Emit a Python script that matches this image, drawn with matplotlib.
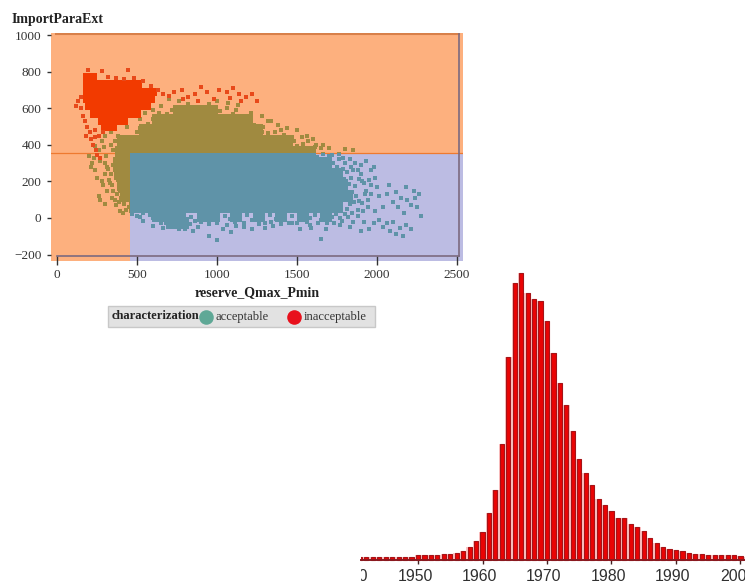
import numpy as np
import matplotlib
matplotlib.use("Agg")
import matplotlib.pyplot as plt
from matplotlib.patches import Rectangle
from matplotlib.lines import Line2D
from matplotlib.transforms import Bbox, IdentityTransform, TransformedBbox, Affine2D

W, H = 745, 581
SERIF = "Liberation Serif"

# ---- scatter data: reserve_Qmax_Pmin (x) against ImportParaExt (y)
x_limit = 456
y_limit = 355
xticks = [0, 500, 1000, 1500, 2000, 2500]
yticks = [-200, 0, 200, 400, 600, 800, 1000]
legend_title = "characterization"
legend_labels = ["acceptable", "inacceptable"]

core_y = [585, 535, 480, 420, 360, 300, 240, 180, 120, 60, 10, -30]
core_x585 = [760, 830, 900, 970]
core_x535 = [630, 700, 770, 840, 910, 980, 1050, 1120, 1190]
core_x480 = [550, 620, 690, 760, 830, 900, 970, 1040, 1110, 1180, 1250]
core_x420 = [410, 480, 550, 620, 690, 760, 830, 900, 970, 1040, 1110, 1180, 1250, 1320, 1390, 1440]
core_x360 = [400, 470, 540, 610, 680, 750, 820, 890, 960, 1030, 1100, 1170, 1240, 1310, 1380, 1450, 1520, 1580]
core_x300 = [385, 420, 490, 560, 630, 700, 770, 840, 910, 980, 1050, 1120, 1190, 1260, 1330, 1400, 1470, 1540, 1610, 1680]
core_x240 = [395, 430, 500, 570, 640, 710, 780, 850, 920, 990, 1060, 1130, 1200, 1270, 1340, 1410, 1480, 1550, 1620, 1690, 1750]
core_x180 = [410, 460, 530, 600, 670, 740, 810, 880, 950, 1020, 1090, 1160, 1230, 1300, 1370, 1440, 1510, 1580, 1650, 1720, 1780]
core_x120 = [430, 490, 560, 630, 700, 770, 840, 910, 980, 1050, 1120, 1190, 1260, 1330, 1400, 1470, 1540, 1610, 1680, 1750, 1810]
core_x60 = [490, 560, 630, 700, 770, 840, 910, 980, 1050, 1120, 1190, 1260, 1330, 1400, 1470, 1540, 1610, 1680, 1750]
core_x10 = [630, 700, 770, 910, 980, 1120, 1260, 1400, 1540, 1680]
core_x_30 = [720, 790]
core_rows = [core_x585, core_x535, core_x480, core_x420, core_x360, core_x300,
             core_x240, core_x180, core_x120, core_x60, core_x10, core_x_30]

accept_sparse = [
    (2010, 120), (2040, 60), (2060, 130), (2075, 180), (2100, 90), (2120, 140), (2130, 60), (2150, 110),
    (2170, 30), (2180, 170), (2190, 100), (2210, 70), (2230, 150), (2240, 110), (2250, 60), (2265, 130),
    (2275, 10), (2215, -60), (2180, -40), (2040, -50), (2060, -30), (2080, -70), (2100, -20), (2120, -90),
    (2145, -55), (2160, -100), (2010, -10), (1980, -30), (1990, 40), (1950, -60), (1920, -20), (1900, -70),
    (1700, 340), (1760, 350), (1790, 330), (1830, 320), (1860, 300), (1900, 290), (1930, 310), (1960, 260),
    (1980, 280), (1900, 240), (1850, 265), (1950, 210), (1990, 220), (2000, 170), (1960, 180), (1920, 190),
    (1960, 130), (1945, 100), (1945, 60), (1915, 40), (1880, 10), (1850, -20), (1930, 150), (1890, 215),
    (1700, 380), (1800, 375), (1850, 370), (1660, 400), (1600, 430), (1560, 450), (1500, 480), (1440, 490),
    (1380, 510), (1320, 530), (1280, 555), (1210, 575), (1120, 590), (1130, 620), (1070, 630), (1000, 640),
    (950, 625), (880, 640), (820, 625), (760, 640), (700, 650), (650, 610), (600, 590), (550, 575), (520, 540),
    (540, -15), (600, -45), (650, -30), (660, -55), (760, -60), (800, -60), (850, -70), (880, -50),
    (950, -100), (1000, -120), (1040, -60), (1090, -75), (1120, -45), (1170, -50), (1220, -60), (1300, -55),
    (1350, -45), (1450, -30), (1520, -60), (1580, -40), (1650, -115), (1680, -60), (1730, -30), (1770, -40),
    (1830, -50), (200, 340), (220, 300), (240, 260), (210, 280), (250, 220), (280, 200), (300, 240),
    (270, 310), (310, 150), (330, 190), (290, 180), (260, 120), (270, 98), (300, 75), (345, 110),
    (370, 70), (415, 27), (395, 40), (350, 150), (375, 130), (230, 330), (260, 370), (235, 395),
    (300, 300), (320, 270), (340, 240), (280, 420), (300, 450), (340, 470), (400, 520), (440, 500),
    (305, 340), (295, 390), (310, 280), (325, 210), (345, 180), (360, 100), (385, 85), (430, 45),
    (470, 20), (500, 10), (520, 5), (1335, 530), (1400, 480), (1530, 440), (1570, 420), (1650, 380),
    (1760, 320), (1800, 300), (1840, 280), (1880, 260), (1905, 200), (1925, 130), (1905, 80), (1880, 45),
    (1060, 600), (640, 575), (1180, 545), (1290, 500), (1360, 470), (1470, 445), (1540, 405), (1610, 390),
    (950, -35), (1000, -30), (1060, -40), (1110, -20), (1170, -30), (1300, -25), (1340, -20), (1470, -25),
    (1500, -30), (1630, -30), (1690, -25), (1780, -15),
    # fringe of the dense cloud
    (1815, 250), (1795, 215), (1840, 220), (1825, 185), (1860, 175), (1845, 140), (1870, 120), (1855, 85),
    (1890, 95), (1830, 75), (1810, 50), (1845, 30), (1800, 20), (1770, 0), (1820, 5), (1745, 20),
    (1725, 300), (1750, 280), (1790, 270), (1720, 345), (1660, 350), (1625, 335), (1600, 370), (1620, 400),
    (1530, 375), (1500, 395), (1480, 420), (1420, 455), (1320, 465), (1280, 470), (1230, 510), (1180, 520),
    (1100, 570), (1020, 585), (1040, 560), (720, 590), (690, 570), (600, 540), (570, 515), (520, 490),
    (500, 470), (470, 440), (380, 450), (360, 420), (340, 400), (350, 370), (365, 320), (350, 290),
    (365, 260), (380, 205), (395, 150), (400, 110), (420, 75), (450, 60), (470, 45), (540, 25),
    (580, 15), (600, 0), (840, 5), (860, -15), (1050, 10), (1080, -5), (1190, 15), (1220, -10),
    (1330, 15), (1370, -5), (1470, 10), (1610, 15), (1580, 0), (1650, -10), (1720, 5), (680, -30),
    (830, -35), (900, -20), (1260, -35), (1400, -35), (1560, -20), (1590, -55),
]

red_core_y = [770, 735, 690, 650, 610, 570, 530, 500]
red_x770 = [190, 225]
red_x735 = [190, 235, 280, 325, 370, 415, 460, 505]
red_x690 = [190, 235, 280, 325, 370, 415, 460, 505, 550, 600]
red_x650 = [190, 235, 280, 325, 370, 415, 460, 505, 550, 590]
red_x610 = [200, 245, 290, 335, 380, 425, 470, 515, 560]
red_x570 = [230, 275, 320, 365, 410, 455, 500]
red_x530 = [280, 325, 375, 420]
red_x500 = [300, 350]
red_rows = [red_x770, red_x735, red_x690, red_x650, red_x610, red_x570, red_x530, red_x500]

red_sparse = [
    (195, 808), (283, 803), (445, 808), (320, 770), (370, 765), (420, 760), (480, 765), (540, 750),
    (590, 720), (630, 700), (660, 680), (700, 665), (730, 690), (780, 700), (820, 660), (860, 680),
    (900, 715), (940, 690), (980, 650), (1010, 700), (1060, 690), (1100, 710), (1140, 680), (1180, 660),
    (1220, 680), (1250, 640), (1150, 640), (1080, 655), (880, 640), (790, 650), (130, 640), (120, 610),
    (150, 600), (160, 560), (175, 530), (190, 500), (205, 470), (180, 450), (215, 430), (235, 480),
    (240, 440), (225, 400), (245, 370), (250, 345), (270, 330), (265, 450), (290, 470), (150, 660),
]

# ---- histogram data
years = list(range(1941, 2002))
counts = [3, 3, 3, 3, 3, 3, 3, 3, 3, 5,
          5, 5, 5, 6, 6, 7, 9, 13, 19, 28,
          47, 70, 116, 203, 277, 287, 267, 261, 259, 239,
          207, 177, 155, 129, 101, 87, 75, 61, 55, 49,
          42, 42, 36, 33, 29, 22, 17, 13, 11, 10,
          9, 7, 6, 6, 5, 5, 5, 5, 5, 4, 3]
bar_ticks = [1940, 1950, 1960, 1970, 1980, 1990, 2000]

fig = plt.figure(figsize=(W / 100, H / 100), dpi=100, facecolor="white")


def box(left, top, right, bottom):
    return [left / W, 1 - bottom / H, (right - left) / W, (bottom - top) / H]


# ---- histogram, lower right
ax2 = fig.add_axes(box(345, 270, 745, 559.5), facecolor="none")
under = ax2.bar(years, counts, width=1.0, color="#fcc4c4", linewidth=0, zorder=1)
over = ax2.bar(years, counts, width=0.64, color="#ea0404", edgecolor="#a51418", linewidth=0.8, zorder=2)
ax2.set_xticks(bar_ticks)
ax2.set_xlim(1938.68, 2000.7)
ax2.set_ylim(0, 290)
ax2.set_yticks([])
ax2.tick_params(axis="x", length=3, width=1, color="#402020", labelsize=11.4, pad=4, labelcolor="#303030")
for s in ["top", "left", "right"]:
    ax2.spines[s].set_visible(False)
ax2.spines["bottom"].set_color("#8a1a20")
ax2.spines["bottom"].set_linewidth(1.4)
ax2.spines["bottom"].set_bounds(1941.2, 2000.7)
ax2.xaxis.get_major_ticks()[0].tick1line.set_visible(False)
clip = TransformedBbox(Bbox([[361, 0], [745, 330]]), IdentityTransform())
for lab in ax2.get_xticklabels():
    lab.set_fontfamily("Liberation Sans")
    lab.set_transform(lab.get_transform() + Affine2D().translate(-3, 0))
    lab.set_clip_on(True)
    lab.set_clip_box(clip)
for bar in list(under) + list(over):
    bar.set_clip_box(clip)

# ---- scatter, upper left
ax = fig.add_axes(box(51, 33, 463, 261), facecolor="#fdb07e", zorder=3)
xmin, xmax = -37.5, 2537.5
ymin, ymax = -235.0, 1011.0
ax.set_xlim(xmin, xmax)
ax.set_ylim(ymin, ymax)
for s in ["left", "right", "top"]:
    ax.spines[s].set_visible(False)
ax.spines["bottom"].set_position(("data", -205))
ax.spines["bottom"].set_bounds(0, 2515)
ax.spines["bottom"].set_color("#7c6a80")
ax.spines["bottom"].set_linewidth(1.2)

low_zone = Rectangle((x_limit, ymin), xmax - x_limit, y_limit - ymin, facecolor="#bcbce3", edgecolor="none", zorder=1)
ax.add_patch(low_zone)
ax.axhline(y_limit, color="#ee7a30", lw=0.9, zorder=1.5)

core_xs = np.concatenate(core_rows)
core_ys = np.concatenate([[y] * len(r) for y, r in zip(core_y, core_rows)])
sparse_x, sparse_y = np.array(accept_sparse).T

for colour, z, clip_patch in [("#a08a40", 2, None), ("#5f93a8", 3, low_zone)]:
    a = ax.scatter(core_xs, core_ys, s=84, marker="s", color=colour, linewidths=0, zorder=z)
    b = ax.scatter(sparse_x, sparse_y, s=9, marker="s", color=colour, linewidths=0, zorder=z)
    if clip_patch is not None:
        a.set_clip_path(clip_patch)
        b.set_clip_path(clip_patch)

red_xs = np.concatenate(red_rows)
red_ys = np.concatenate([[y] * len(r) for y, r in zip(red_core_y, red_rows)])
rs_x, rs_y = np.array(red_sparse).T
ax.scatter(red_xs, red_ys, s=34, marker="s", color="#f23a00", linewidths=0, zorder=4)
ax.scatter(rs_x, rs_y, s=8, marker="s", color="#e8491a", linewidths=0, zorder=4)

ax.set_xticks(xticks)
ax.set_yticks(yticks)
ax.set_xlim(xmin, xmax)
ax.set_ylim(ymin, ymax)
ax.tick_params(axis="y", length=3, width=1, color="#333333", labelsize=9.5, pad=4, labelcolor="#333333")
ax.tick_params(axis="x", length=6.5, width=1, color="#333333", labelsize=9.5, pad=3, labelcolor="#333333")
for lab in ax.get_xticklabels() + ax.get_yticklabels():
    lab.set_fontfamily(SERIF)
ax.plot([-5, 2515], [1003, 1003], color="#d8804a", lw=1.5, zorder=1.6)
ax.plot([2515, 2515], [1003, -205], color="#7c6a80", lw=1.2, zorder=1.6)

fig.text(12 / W, 1 - 19 / H, "ImportParaExt", family=SERIF, weight="bold", fontsize=10,
         color="#222222", ha="left", va="center")
fig.text(257 / W, 1 - 293 / H, "reserve_Qmax_Pmin", family=SERIF, weight="bold", fontsize=10,
         color="#222222", ha="center", va="center")

# ---- legend
fig.add_artist(Rectangle((108 / W, 1 - 327 / H), 267 / W, 21 / H, transform=fig.transFigure,
                         facecolor="#e2e2e2", edgecolor="#c8c8c8", lw=1))
fig.text(112 / W, 1 - 316 / H, legend_title, family=SERIF, weight="bold", fontsize=9,
         color="#222222", ha="left", va="center")
fig.add_artist(Line2D([206 / W], [1 - 317 / H], marker="o", ms=10.5, mfc="#5fa896", mec="none",
                      ls="none", transform=fig.transFigure))
fig.text(216 / W, 1 - 317 / H, legend_labels[0], family=SERIF, fontsize=9, color="#333333", ha="left", va="center")
fig.add_artist(Line2D([294 / W], [1 - 317 / H], marker="o", ms=10.5, mfc="#e8101c", mec="none",
                      ls="none", transform=fig.transFigure))
fig.text(304 / W, 1 - 317 / H, legend_labels[1], family=SERIF, fontsize=9, color="#333333", ha="left", va="center")

fig.savefig("out.png", dpi=100, facecolor="white")
